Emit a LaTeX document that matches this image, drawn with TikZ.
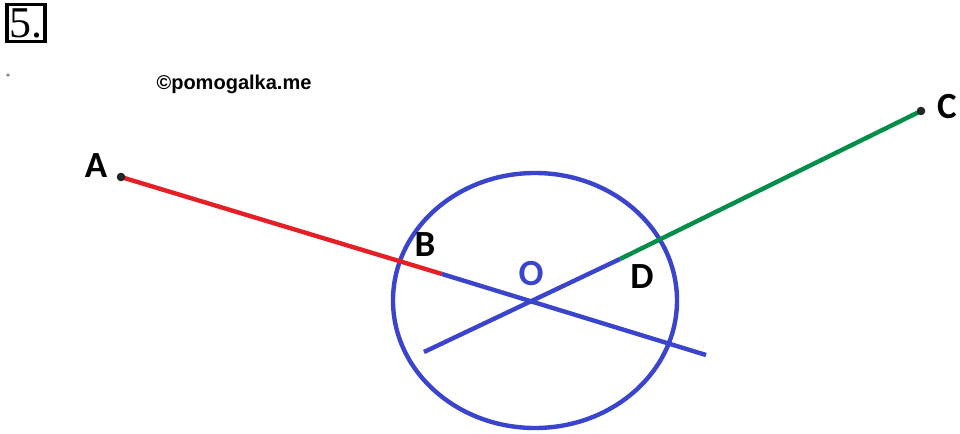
\documentclass[tikz,border=0pt]{standalone}
\usepackage{fontspec}
\setmainfont{Liberation Serif}
\newfontfamily\labelfont{Carlito}
\newfontfamily\markfont{Liberation Sans}
\usepackage[x11names, svgnames]{xcolor}
\usetikzlibrary{calc}
\definecolor{segred}{RGB}{228,32,38}
\definecolor{segblue}{RGB}{58,68,204}
\definecolor{seggreen}{RGB}{0,142,72}
\tikzset{
  seg/.style={line width=2.5pt},
  ptlabel/.style={font=\labelfont\fontsize{21}{24}\selectfont\bfseries, inner sep=0pt},
}
\def\dotr{4.3}

\begin{document}
\begin{tikzpicture}[x=0.02cm, y=-0.02cm]
	\useasboundingbox (0,0) rectangle (960,433);
	\fill[white] (0,0) rectangle (960,433);

	\coordinate (A) at (121,177);
	\coordinate (C) at (921,111);
	\coordinate (B) at (442,274);
	\coordinate (D) at (620,259);
	\coordinate (E) at (706,355);
	\coordinate (F) at (424,352);
	\coordinate (O) at (535,300.5);

	% number in a box
	\node[draw, line width=1.8pt, minimum width=38*0.02cm, minimum height=37*0.02cm, inner sep=0pt,
	      font=\fontsize{25}{28}\selectfont] (num) at (26,23) {5.};
	\fill[gray] (6,76) -- (10,76) -- (8,73) -- cycle;
	\node[font=\markfont\fontsize{11.4}{13}\selectfont\bfseries] (mark) at (234,84) {\textcopyright pomogalka.me};

	\draw[seg, segblue] (O) ellipse (142 and 127.5);

	\draw[seg, segred] (A) -- (B);
	\draw[seg, segblue] (B) -- (E);
	\draw[seg, seggreen] (C) -- (D);
	\draw[seg, segblue] (D) -- (F);

	\fill[black!85] (A) circle (\dotr);
	\fill[black!85] (C) circle (\dotr);

	\node[ptlabel] (lA) at (96,166) {A};
	\node[ptlabel] (lC) at (947,107) {C};
	\node[ptlabel] (lB) at (425,245) {B};
	\node[ptlabel] (lD) at (642,277) {D};
	\node[ptlabel, segblue] (lO) at (531,274) {O};
\end{tikzpicture}
\end{document}
